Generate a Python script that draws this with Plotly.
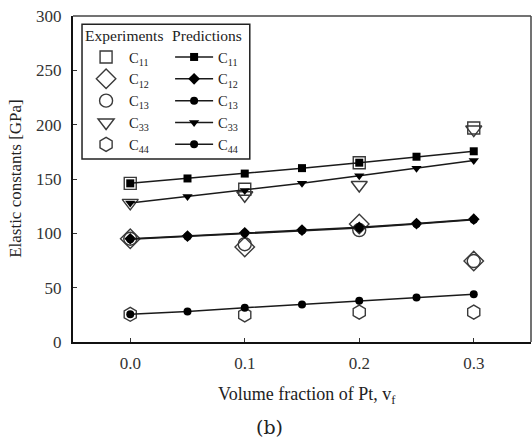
import plotly.graph_objects as go

# ---------------- data ----------------
x_exp = [0.0, 0.1, 0.2, 0.3]
exp_c11 = [146, 140.5, 165, 197]
exp_c12 = [95, 87.5, 108.5, 74.5]
exp_c13 = [95, 90, 103, 74.5]
exp_c33 = [128, 135, 144.5, 195.5]
exp_c44 = [25.5, 25, 27.5, 27.5]

x_pred = [0.0, 0.05, 0.1, 0.15, 0.2, 0.25, 0.3]
pred_c11 = [146, 150.5, 155, 160, 165, 170.5, 175.5]
pred_c12 = [95, 97.5, 100.5, 103, 105.5, 109, 113]
pred_c13 = [94.5, 97, 100, 102.5, 105, 108.5, 112.5]
pred_c33 = [128, 134, 139.5, 146, 153, 160, 167]
pred_c44 = [25.5, 28, 31.5, 34.5, 38, 41, 44]

labels = ["C<sub>11</sub>", "C<sub>12</sub>", "C<sub>13</sub>", "C<sub>33</sub>", "C<sub>44</sub>"]
x_ticks = [0.0, 0.1, 0.2, 0.3]
x_tick_text = ["0.0", "0.1", "0.2", "0.3"]
y_ticks = [0, 50, 100, 150, 200, 250, 300]

FONT = "Liberation Serif"
exp_series = [exp_c11, exp_c12, exp_c13, exp_c33, exp_c44]
pred_series = [pred_c11, pred_c12, pred_c13, pred_c33, pred_c44]
exp_symbols = ["square-open", "diamond-open", "circle-open", "triangle-down-open", "hexagon-open"]
exp_sizes = [12, 15, 13, 14, 14]
pred_symbols = ["square", "diamond", "circle", "triangle-down", "circle"]
pred_sizes = [8, 9, 8, 9, 8]

fig = go.Figure()

for lab, ys, sym, sz in zip(labels, exp_series, exp_symbols, exp_sizes):
    fig.add_trace(go.Scatter(
        x=x_exp, y=ys, mode="markers", name=lab, legend="legend",
        marker=dict(symbol=sym, size=sz, color="#3a3a3a", line=dict(width=1.4, color="#3a3a3a")),
    ))

for lab, ys, sym, sz in zip(labels, pred_series, pred_symbols, pred_sizes):
    fig.add_trace(go.Scatter(
        x=x_pred, y=ys, mode="lines+markers", name=lab, legend="legend2",
        line=dict(color="#1a1a1a", width=1.5),
        marker=dict(symbol=sym, size=sz, color="#000000"),
    ))

fig.update_layout(
    width=532, height=440,
    margin=dict(l=73, r=1, t=16, b=98),
    paper_bgcolor="white", plot_bgcolor="white",
    font=dict(family=FONT, size=15, color="#222"),
    showlegend=True,
    legend=dict(
        x=0.022, y=0.985, xanchor="left", yanchor="top",
        bgcolor="rgba(0,0,0,0)", borderwidth=0, itemwidth=36,
        title=dict(text="Experiments", font=dict(family=FONT, size=15.5)),
        font=dict(family=FONT, size=14.5), tracegroupgap=0,
    ),
    legend2=dict(
        x=0.212, y=0.985, xanchor="left", yanchor="top",
        bgcolor="rgba(0,0,0,0)", borderwidth=0, itemwidth=38,
        title=dict(text="Predictions", font=dict(family=FONT, size=15.5)),
        font=dict(family=FONT, size=14.5), tracegroupgap=0,
    ),
    xaxis=dict(
        range=[-0.05, 0.35], tickvals=x_ticks, ticktext=x_tick_text,
        ticks="inside", ticklen=4, tickcolor="#333", showgrid=False, zeroline=False,
        showline=True, linecolor="#111", linewidth=2, ticklabelstandoff=5,
        tickfont=dict(family=FONT, size=17, color="#333"),
    ),
    yaxis=dict(
        range=[0, 300], tickvals=y_ticks,
        ticks="inside", ticklen=4, tickcolor="#333", showgrid=False, zeroline=False,
        showline=True, linecolor="#111", linewidth=2, ticklabelstandoff=6,
        tickfont=dict(family=FONT, size=17, color="#333"),
    ),
    shapes=[
        dict(type="line", xref="paper", yref="paper", x0=0, x1=1, y0=1, y1=1,
             line=dict(color="#444", width=1.5)),
        dict(type="line", xref="paper", yref="paper", x0=1, x1=1, y0=0, y1=1,
             line=dict(color="#444", width=1.5)),
        dict(type="rect", xref="paper", yref="paper", x0=0.0197, x1=0.386, y0=0.561, y1=0.975,
             line=dict(color="#222", width=1.5)),
    ],
    annotations=[
        dict(text="Volume fraction of Pt, v<sub>f</sub>", xref="paper", yref="paper",
             x=0.51, y=-0.163, xanchor="center", yanchor="middle", showarrow=False,
             font=dict(family=FONT, size=18, color="#222")),
        dict(text="Elastic constants [GPa]", xref="paper", yref="paper",
             x=-0.127, y=0.503, xanchor="center", yanchor="middle", showarrow=False,
             textangle=-90, font=dict(family=FONT, size=17, color="#222")),
        dict(text="(b)", xref="paper", yref="paper",
             x=0.43, y=-0.261, xanchor="center", yanchor="middle", showarrow=False,
             font=dict(family="DejaVu Serif", size=19, color="#222")),
    ],
)

fig.write_html("out.html")
